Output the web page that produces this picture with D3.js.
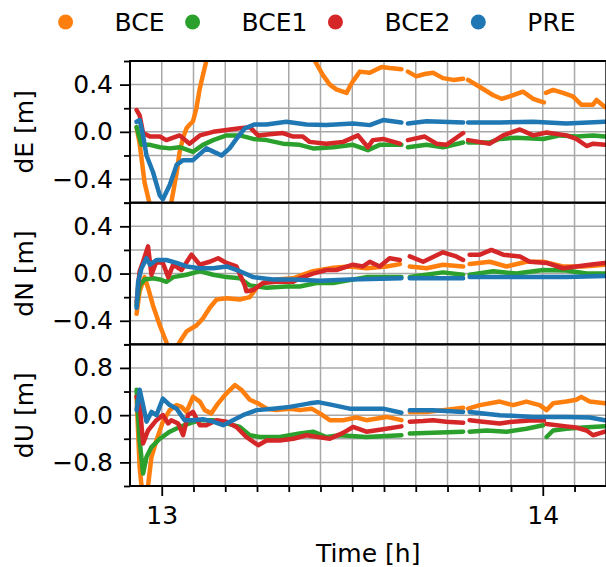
<!DOCTYPE html>
<html><head><meta charset="utf-8">
<script src="https://cdn.jsdelivr.net/npm/d3@7"></script>
<style>body{margin:0;background:#fff}svg{display:block;font-family:"DejaVu Sans",sans-serif}</style>
</head><body><svg id="c" width="606" height="567"></svg>
<script>
// ---------------- data ----------------
const seriesNames = ["BCE", "BCE1", "BCE2", "PRE"];
const seriesColors = ["#ff7f0e", "#2ca02c", "#d62728", "#1f77b4"];
const panelLabels = ["dE [m]", "dN [m]", "dU [m]"];
const panelDomains = [[-0.6, 0.6], [-0.6, 0.6], [-1.2, 1.2]];
const majorYTicks = [[-0.4, 0, 0.4], [-0.4, 0, 0.4], [-0.8, 0, 0.8]];
const minorYTicks = [[-0.6, -0.2, 0.2, 0.6], [-0.6, -0.2, 0.2, 0.6], [-1.2, -0.4, 0.4, 1.2]];
const xDomain = [12.9167, 14.1667];
const xMajorTicks = [13, 14];
const xLabel = "Time [h]";

// [time h, value m]; null = data gap
const dE_BCE = [[12.934,0.04],[12.942,-0.1],[12.955,-0.43],[12.969,-0.62],[12.977,-0.7],[12.995,-0.75],[13.017,-0.72],[13.025,-0.6],[13.039,-0.35],[13.047,-0.17],[13.056,-0.05],[13.065,0.03],[13.073,0.06],[13.082,0.09],[13.091,0.2],[13.1,0.37],[13.108,0.48],[13.117,0.6],[13.14,0.85],[13.2,1.1],[13.3,1.0],[13.38,0.75],[13.402,0.6],[13.423,0.48],[13.441,0.4],[13.458,0.36],[13.485,0.33],[13.493,0.38],[13.502,0.43],[13.52,0.51],[13.546,0.5],[13.577,0.55],[13.598,0.54],[13.629,0.53],[13.637,null],[13.646,0.51],[13.668,0.47],[13.69,0.49],[13.712,0.5],[13.738,0.455],[13.765,0.44],[13.791,0.45],[13.797,null],[13.804,0.44],[13.835,0.38],[13.87,0.31],[13.892,0.28],[13.913,0.3],[13.948,0.34],[13.975,0.28],[13.992,0.26],[14.003,0.25],[14.006,null],[14.008,0.33],[14.027,0.355],[14.053,0.33],[14.079,0.3],[14.101,0.23],[14.132,0.23],[14.141,0.27],[14.163,0.21]];
const dE_BCE1 = [[12.934,0.04],[12.947,-0.11],[12.969,-0.11],[12.995,-0.13],[13.021,-0.14],[13.047,-0.13],[13.082,-0.17],[13.108,-0.11],[13.135,-0.07],[13.17,-0.03],[13.205,-0.03],[13.24,-0.06],[13.275,-0.07],[13.318,-0.1],[13.362,-0.11],[13.397,-0.14],[13.45,-0.13],[13.502,-0.11],[13.541,-0.155],[13.572,-0.11],[13.629,-0.11],[13.637,null],[13.646,-0.13],[13.695,-0.11],[13.738,-0.13],[13.791,-0.09],[13.797,null],[13.804,-0.09],[13.861,-0.09],[13.887,-0.06],[13.931,-0.05],[14.001,-0.06],[14.045,-0.03],[14.088,-0.04],[14.132,-0.03],[14.163,-0.04]];
const dE_BCE2 = [[12.934,0.185],[12.942,0.14],[12.951,-0.01],[12.969,-0.04],[12.995,-0.04],[13.012,-0.07],[13.047,-0.03],[13.073,-0.1],[13.1,-0.03],[13.135,0.0],[13.17,0.015],[13.205,0.03],[13.231,0.04],[13.253,-0.03],[13.283,-0.02],[13.318,-0.01],[13.345,-0.04],[13.37,-0.04],[13.388,-0.085],[13.432,-0.1],[13.476,-0.085],[13.515,-0.03],[13.541,-0.13],[13.554,-0.07],[13.581,-0.06],[13.625,-0.1],[13.637,null],[13.646,-0.07],[13.69,-0.04],[13.721,-0.1],[13.747,-0.11],[13.791,-0.01],[13.797,null],[13.804,-0.07],[13.861,-0.1],[13.896,-0.03],[13.94,0.02],[13.975,-0.03],[14.01,-0.005],[14.062,-0.03],[14.088,-0.06],[14.115,-0.12],[14.132,-0.1],[14.163,-0.11]];
const dE_PRE = [[12.934,0.085],[12.942,0.1],[12.951,-0.03],[12.96,-0.2],[12.977,-0.34],[12.995,-0.54],[13.003,-0.57],[13.021,-0.45],[13.039,-0.28],[13.056,-0.24],[13.082,-0.24],[13.117,-0.14],[13.144,-0.18],[13.157,-0.2],[13.178,-0.14],[13.196,-0.06],[13.218,0.03],[13.244,0.063],[13.275,0.063],[13.327,0.085],[13.38,0.063],[13.432,0.057],[13.502,0.07],[13.546,0.057],[13.581,0.1],[13.629,0.08],[13.637,null],[13.646,0.07],[13.695,0.09],[13.791,0.08],[13.797,null],[13.804,0.08],[13.887,0.08],[13.975,0.085],[14.062,0.07],[14.163,0.085]];

const dN_BCE = [[12.934,-0.34],[12.942,-0.15],[12.955,-0.03],[12.964,-0.12],[12.977,-0.27],[12.995,-0.44],[13.012,-0.58],[13.025,-0.68],[13.04,-0.62],[13.047,-0.58],[13.065,-0.49],[13.091,-0.44],[13.108,-0.38],[13.126,-0.29],[13.144,-0.22],[13.17,-0.21],[13.205,-0.22],[13.231,-0.2],[13.249,-0.12],[13.266,-0.08],[13.301,-0.05],[13.345,-0.04],[13.362,-0.02],[13.397,0.02],[13.45,0.05],[13.493,0.06],[13.537,0.045],[13.59,0.06],[13.625,0.08],[13.637,null],[13.651,0.06],[13.695,0.045],[13.738,0.075],[13.791,0.06],[13.797,null],[13.808,0.08],[13.861,0.1],[13.905,0.06],[13.957,0.1],[14.001,0.1],[14.053,0.06],[14.106,0.06],[14.163,0.075]];
const dN_BCE1 = [[12.934,-0.27],[12.942,-0.1],[12.955,-0.05],[12.977,-0.04],[12.995,-0.05],[13.012,-0.07],[13.03,-0.03],[13.065,-0.01],[13.1,0.02],[13.135,-0.01],[13.17,-0.03],[13.205,-0.04],[13.231,-0.1],[13.275,-0.12],[13.327,-0.11],[13.362,-0.11],[13.406,-0.08],[13.45,-0.08],[13.537,-0.03],[13.629,-0.03],[13.637,null],[13.651,-0.03],[13.738,0.01],[13.791,-0.01],[13.797,null],[13.808,-0.01],[13.87,0.02],[13.931,0.0],[14.001,0.03],[14.062,0.025],[14.115,0.0],[14.163,0.0]];
const dN_BCE2 = [[12.934,-0.24],[12.942,0.02],[12.951,0.1],[12.964,0.23],[12.973,-0.01],[12.986,0.1],[13.003,0.09],[13.017,-0.03],[13.03,0.075],[13.052,0.03],[13.078,0.16],[13.1,0.075],[13.126,0.1],[13.148,0.13],[13.17,0.09],[13.196,0.06],[13.218,-0.1],[13.222,-0.15],[13.24,-0.14],[13.266,-0.08],[13.301,-0.07],[13.345,-0.07],[13.362,-0.04],[13.397,0.0],[13.432,0.03],[13.458,0.03],[13.502,0.075],[13.528,0.06],[13.546,0.1],[13.572,0.06],[13.598,0.13],[13.625,0.115],[13.637,null],[13.651,0.145],[13.686,0.1],[13.738,0.18],[13.773,0.145],[13.791,0.115],[13.797,null],[13.808,0.16],[13.835,0.16],[13.865,0.2],[13.896,0.16],[13.94,0.145],[13.966,0.1],[14.01,0.09],[14.053,0.045],[14.088,0.06],[14.123,0.075],[14.163,0.09]];
const dN_PRE = [[12.934,-0.29],[12.938,-0.07],[12.947,0.045],[12.96,0.13],[12.969,0.075],[12.986,0.115],[13.012,0.115],[13.039,0.09],[13.065,0.06],[13.1,0.045],[13.135,0.045],[13.17,0.06],[13.205,0.02],[13.24,-0.03],[13.292,-0.05],[13.345,-0.05],[13.415,-0.06],[13.493,-0.05],[13.629,-0.04],[13.637,null],[13.651,-0.04],[13.791,-0.04],[13.797,null],[13.808,-0.03],[14.062,-0.03],[14.163,-0.02]];

const dU_BCE = [[12.934,0.31],[12.942,-0.88],[12.947,-1.2],[12.952,-1.4],[12.96,-1.35],[12.964,-1.2],[12.973,-0.71],[12.986,-0.43],[13.003,-0.11],[13.021,0.085],[13.039,0.17],[13.052,0.14],[13.065,0.055],[13.082,0.31],[13.1,0.23],[13.113,0.085],[13.13,0.03],[13.148,0.2],[13.17,0.37],[13.192,0.51],[13.209,0.43],[13.231,0.26],[13.253,0.2],[13.275,0.11],[13.301,0.085],[13.336,0.11],[13.362,0.085],[13.393,0.11],[13.415,0.03],[13.441,-0.085],[13.476,-0.085],[13.511,-0.04],[13.537,-0.085],[13.59,-0.03],[13.629,-0.085],[13.637,null],[13.651,0.055],[13.695,0.055],[13.738,0.085],[13.791,0.125],[13.797,null],[13.804,0.11],[13.835,0.17],[13.887,0.23],[13.922,0.17],[13.957,0.23],[13.992,0.17],[14.01,0.085],[14.027,0.2],[14.062,0.23],[14.088,0.26],[14.101,0.31],[14.123,0.23],[14.163,0.2]];
const dU_BCE1 = [[12.934,0.43],[12.942,-0.43],[12.951,-0.99],[12.96,-0.71],[12.973,-0.54],[12.995,-0.4],[13.021,-0.28],[13.047,-0.2],[13.073,-0.14],[13.1,-0.085],[13.135,-0.085],[13.17,-0.14],[13.205,-0.2],[13.231,-0.34],[13.257,-0.37],[13.31,-0.37],[13.362,-0.31],[13.397,-0.28],[13.432,-0.37],[13.467,-0.34],[13.537,-0.37],[13.629,-0.34],[13.637,null],[13.651,-0.31],[13.791,-0.28],[13.797,null],[13.808,-0.28],[13.852,-0.26],[13.905,-0.28],[13.957,-0.23],[14.001,-0.17],[14.006,null],[14.01,-0.37],[14.027,-0.26],[14.062,-0.23],[14.106,-0.21],[14.163,-0.19]];
const dU_BCE2 = [[12.934,0.31],[12.942,0.2],[12.951,-0.48],[12.964,-0.26],[12.986,-0.085],[13.003,0.0],[13.017,-0.14],[13.025,-0.085],[13.043,-0.14],[13.056,-0.34],[13.069,0.0],[13.082,0.055],[13.1,-0.17],[13.117,-0.17],[13.144,-0.085],[13.17,-0.11],[13.196,-0.2],[13.222,-0.37],[13.253,-0.51],[13.275,-0.43],[13.31,-0.43],[13.345,-0.4],[13.38,-0.34],[13.41,-0.37],[13.441,-0.4],[13.476,-0.3],[13.502,-0.2],[13.537,-0.28],[13.581,-0.24],[13.629,-0.19],[13.637,null],[13.651,-0.11],[13.686,-0.1],[13.712,-0.085],[13.747,-0.11],[13.791,-0.13],[13.797,null],[13.808,-0.085],[13.843,-0.11],[13.887,-0.14],[13.922,-0.11],[13.975,-0.085],[14.003,-0.09],[14.006,null],[14.01,-0.15],[14.062,-0.19],[14.088,-0.21],[14.115,-0.26],[14.132,-0.34],[14.163,-0.28]];
const dU_PRE = [[12.934,0.085],[12.942,0.43],[12.951,0.17],[12.96,-0.11],[12.973,0.055],[12.986,0.0],[13.003,0.28],[13.021,0.17],[13.039,0.11],[13.06,-0.085],[13.082,-0.085],[13.108,-0.07],[13.135,-0.11],[13.161,-0.17],[13.187,-0.085],[13.213,0.0],[13.249,0.085],[13.292,0.11],[13.336,0.14],[13.388,0.2],[13.41,0.22],[13.45,0.17],[13.493,0.11],[13.581,0.11],[13.629,0.04],[13.637,null],[13.651,0.085],[13.712,0.085],[13.791,0.055],[13.797,null],[13.808,0.055],[13.887,0.0],[13.975,-0.03],[14.062,-0.03],[14.123,-0.04],[14.163,-0.085]];

const panelData = [
  [dE_BCE, dE_BCE1, dE_BCE2, dE_PRE],
  [dN_BCE, dN_BCE1, dN_BCE2, dN_PRE],
  [dU_BCE, dU_BCE1, dU_BCE2, dU_PRE]
];

// ---------------- layout ----------------
const svg = d3.select("#c");
const L = 130, R = 606.3;
const panelTop = [61, 202.7, 344.3];
const panelH = 141.7;
const FS = 25;

const x = d3.scaleLinear().domain(xDomain).range([L, R]);
const minorX = d3.range(Math.ceil(xDomain[0] * 12 - 1e-6), Math.floor(xDomain[1] * 12 + 1e-6) + 1).map(k => k / 12);
const fmt = d3.format(".1f");

panelData.forEach((series, p) => {
  const top = panelTop[p], bot = top + panelH;
  const y = d3.scaleLinear().domain(panelDomains[p]).range([bot, top]);
  const g = svg.append("g");

  // grid
  const gridY = majorYTicks[p].concat(minorYTicks[p]).filter(v => v > panelDomains[p][0] + 1e-9 && v < panelDomains[p][1] - 1e-9);
  g.append("g").selectAll("line").data(minorX.filter(t => x(t) > L + 0.5 && x(t) < R - 0.5)).join("line")
    .attr("x1", d => x(d)).attr("x2", d => x(d)).attr("y1", top).attr("y2", bot)
    .attr("stroke", "#a8a8a8").attr("stroke-width", 1.5);
  g.append("g").selectAll("line").data(gridY).join("line")
    .attr("x1", L).attr("x2", R).attr("y1", d => y(d)).attr("y2", d => y(d))
    .attr("stroke", "#a8a8a8").attr("stroke-width", 1.5);

  // clip
  const cid = "clip" + p;
  svg.append("clipPath").attr("id", cid).append("rect")
    .attr("x", L).attr("y", top).attr("width", R - L).attr("height", panelH);

  const line = d3.line().defined(d => d[1] !== null).x(d => x(d[0])).y(d => y(d[1])).curve(d3.curveLinear);
  const dg = g.append("g").attr("clip-path", `url(#${cid})`);
  series.forEach((s, i) => {
    dg.append("path").datum(s).attr("d", line).attr("fill", "none")
      .attr("stroke", seriesColors[i]).attr("stroke-width", 4.5)
      .attr("stroke-linejoin", "round").attr("stroke-linecap", "round");
  });

  // y axis
  const ya = g.append("g").attr("transform", `translate(${L},0)`)
    .call(d3.axisLeft(y).tickValues(majorYTicks[p]).tickSize(10).tickPadding(7).tickFormat(fmt));
  const ym = g.append("g").attr("transform", `translate(${L},0)`)
    .call(d3.axisLeft(y).tickValues(minorYTicks[p]).tickSize(6).tickFormat(""));
  [ya, ym].forEach(a => {
    a.select(".domain").remove();
    a.selectAll("line").attr("stroke", "#000").attr("stroke-width", 1.8);
  });
  ya.selectAll("text").attr("font-size", FS).attr("font-family", "DejaVu Sans").attr("fill", "#000");

  // y label
  g.append("text").attr("transform", `translate(33,${(top + bot) / 2}) rotate(-90)`)
    .attr("text-anchor", "middle").attr("font-size", FS).attr("fill", "#000").text(panelLabels[p]);

  // spines
  g.append("rect").attr("x", L).attr("y", top).attr("width", R - L).attr("height", panelH)
    .attr("fill", "none").attr("stroke", "#000").attr("stroke-width", 2);

  if (p === 2) {
    const xa = g.append("g").attr("transform", `translate(0,${bot})`)
      .call(d3.axisBottom(x).tickValues(xMajorTicks).tickSize(10).tickPadding(10).tickFormat(d3.format("d")));
    const xm = g.append("g").attr("transform", `translate(0,${bot})`)
      .call(d3.axisBottom(x).tickValues(minorX.filter(t => !xMajorTicks.includes(Math.round(t * 1000) / 1000) && x(t) > L + 0.5 && x(t) < R - 0.5)).tickSize(6).tickFormat(""));
    [xa, xm].forEach(a => {
      a.select(".domain").remove();
      a.selectAll("line").attr("stroke", "#000").attr("stroke-width", 1.8);
    });
    xa.selectAll("text").attr("font-size", FS).attr("font-family", "DejaVu Sans").attr("fill", "#000");
    g.append("text").attr("x", (L + R) / 2).attr("y", 561.5).attr("text-anchor", "middle")
      .attr("font-size", FS).attr("fill", "#000").text(xLabel);
  }
});

// legend
const lg = svg.append("g");
let cx = 65.6;
seriesNames.forEach((n, i) => {
  lg.append("circle").attr("cx", cx).attr("cy", 22).attr("r", 7.5).attr("fill", seriesColors[i]);
  const t = lg.append("text").attr("x", cx + 49).attr("y", 22).attr("dy", "0.35em")
    .attr("font-size", FS).attr("fill", "#000").text(n);
  cx = cx + 49 + t.node().getComputedTextLength() + 28;
});
</script>
</body></html>
